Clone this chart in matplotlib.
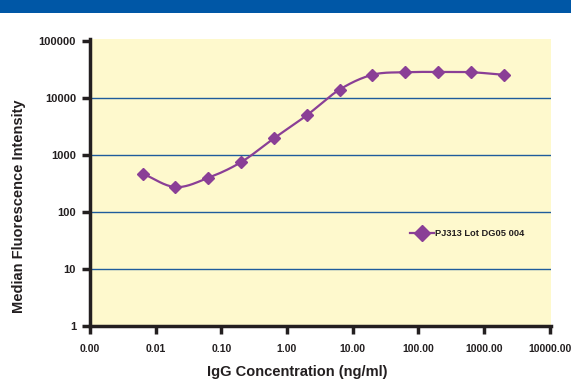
import numpy as np
import matplotlib
matplotlib.use("Agg")
import matplotlib.pyplot as plt
from matplotlib.ticker import FixedLocator, FixedFormatter
from matplotlib.lines import Line2D

# IgG concentration (ng/ml) and median fluorescence intensity
conc = [0.00632, 0.02, 0.0632, 0.2, 0.632, 2.0, 6.32, 20.0, 63.2, 200.0, 632.0, 2000.0]
mfi = [470, 272, 395, 745, 1950, 4950, 14000, 25500, 28300, 28600, 28300, 25500]
series_name = "PJ313 Lot DG05 004"

x_ticks = [0.001, 0.01, 0.1, 1, 10, 100, 1000, 10000]
x_tick_labels = ["0.00", "0.01", "0.10", "1.00", "10.00", "100.00", "1000.00", "10000.00"]
y_ticks = [1, 10, 100, 1000, 10000, 100000]
y_tick_labels = ["1", "10", "100", "1000", "10000", "100000"]

purple = "#8a3f96"
grid_blue = "#1f5c9c"
dark = "#231f20"
plt.rcParams['font.family'] = ['Liberation Sans', 'DejaVu Sans']


def smooth_curve(xs, ys, steps=20):
    """Catmull-Rom style smoothing in log space, like a spreadsheet smoothed line."""
    lx, ly = np.log10(xs), np.log10(ys)
    px = np.concatenate([[2 * lx[0] - lx[1]], lx, [2 * lx[-1] - lx[-2]]])
    py = np.concatenate([[2 * ly[0] - ly[1]], ly, [2 * ly[-1] - ly[-2]]])
    out_x, out_y = [], []
    t = np.linspace(0, 1, steps)
    for i in range(1, len(px) - 2):
        for p, out in ((px, out_x), (py, out_y)):
            p0, p1, p2, p3 = p[i - 1], p[i], p[i + 1], p[i + 2]
            c1 = p1 + (p2 - p0) / 6
            c2 = p2 - (p3 - p1) / 6
            out.extend((1 - t) ** 3 * p1 + 3 * (1 - t) ** 2 * t * c1 + 3 * (1 - t) * t ** 2 * c2 + t ** 3 * p2)
    return 10 ** np.array(out_x), 10 ** np.array(out_y)


fig = plt.figure(figsize=(5.71, 3.84), dpi=100)
fig.patches.append(plt.Rectangle((0, 1 - 13 / 384), 1, 13 / 384, transform=fig.transFigure,
                                 facecolor="#0057a6", edgecolor="none"))

ax = fig.add_axes([90 / 571, (384 - 325.7) / 384, 461 / 571, (325.7 - 39) / 384])
ax.set_facecolor("#fef9cd")
ax.set_xscale("log")
ax.set_yscale("log")
ax.set_xlim(1e-3, 1e4 * 10 ** (1.4 / 65.6))
ax.set_ylim(1, 1e5 * 10 ** (2 / 57))

for v in [10, 100, 1000, 10000]:
    ax.axhline(v, color=grid_blue, linewidth=1.0, zorder=1)

sx, sy = smooth_curve(conc, mfi)
ax.plot(sx, sy, color=purple, linewidth=1.6, zorder=3)
ax.plot(conc, mfi, linestyle="none", marker="D", markersize=6.5, color=purple, zorder=4)

for side in ["top", "right"]:
    ax.spines[side].set_visible(False)
for side in ["left", "bottom"]:
    ax.spines[side].set_linewidth(2.5)
    ax.spines[side].set_color(dark)

ax.xaxis.set_major_locator(FixedLocator(x_ticks))
ax.xaxis.set_major_formatter(FixedFormatter(x_tick_labels))
ax.xaxis.set_minor_locator(FixedLocator([]))
ax.yaxis.set_major_locator(FixedLocator(y_ticks))
ax.yaxis.set_major_formatter(FixedFormatter(y_tick_labels))
ax.yaxis.set_minor_locator(FixedLocator([]))
ax.tick_params(axis="both", which="major", direction="out", length=6, width=2.5, color=dark)
ax.tick_params(axis="x", pad=7, labelsize=7.5)
ax.tick_params(axis="y", pad=4, labelsize=8)
for lbl in ax.get_xticklabels() + ax.get_yticklabels():
    lbl.set_fontweight("bold")
    lbl.set_color(dark)

ax.set_xlabel("IgG Concentration (ng/ml)", fontsize=10.5, fontweight="bold", color=dark)
ax.set_ylabel("Median Fluorescence Intensity", fontsize=10.5, fontweight="bold", color=dark)
ax.xaxis.set_label_coords(0.45, -0.137)
ax.yaxis.set_label_coords(-0.139, 0.417)

handle = Line2D([], [], color=purple, linewidth=1.6, marker="D", markersize=8)
leg = ax.legend([handle], [series_name], loc="center left", bbox_to_anchor=(0.675, 0.32),
                frameon=False, prop={"size": 6.7, "weight": "bold"}, handlelength=2.6,
                handletextpad=0.15)
for txt in leg.get_texts():
    txt.set_color(dark)

fig.savefig("out.png", dpi=100)
